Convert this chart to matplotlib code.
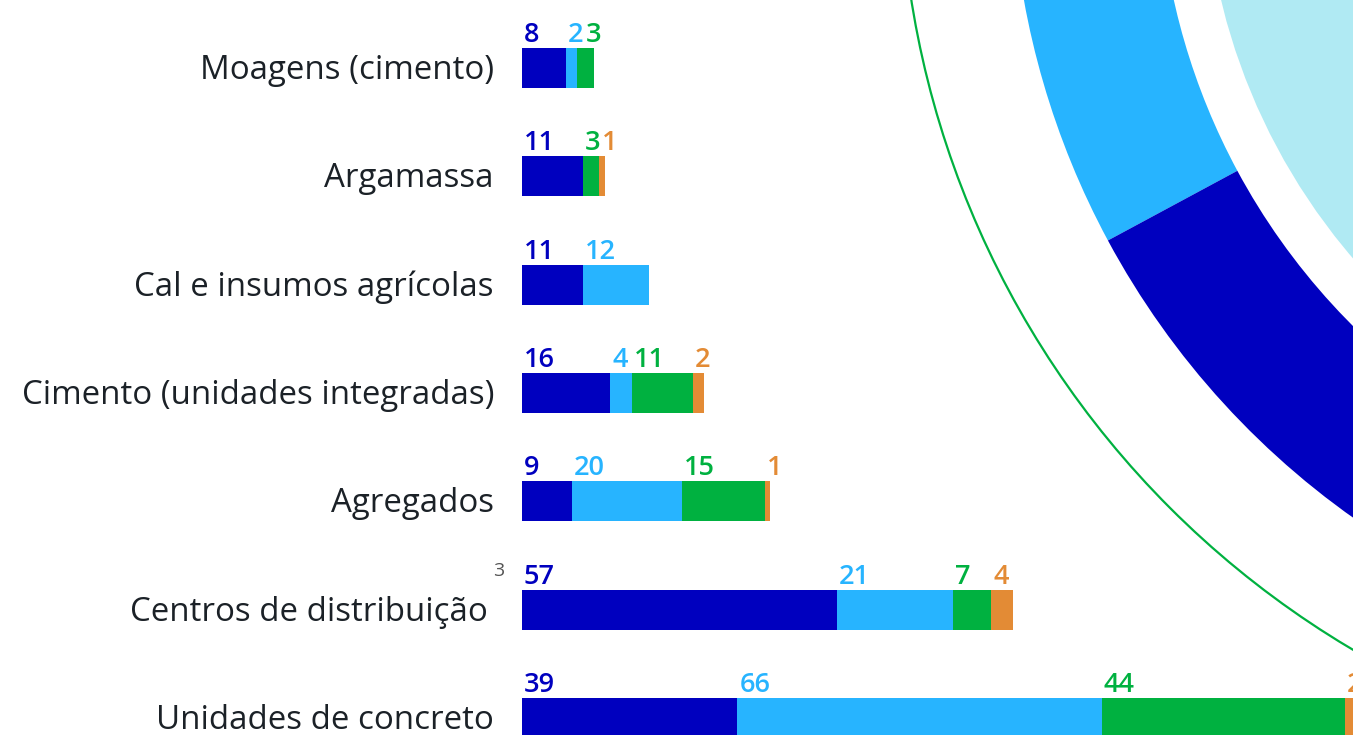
import numpy as np
import matplotlib
matplotlib.use("Agg")
import matplotlib.pyplot as plt
from matplotlib.patches import Wedge, Circle

# data
categories = ["Moagens (cimento)", "Argamassa", "Cal e insumos agrícolas",
              "Cimento (unidades integradas)", "Agregados",
              "Centros de distribuição", "Unidades de concreto"]
footnote = ["", "", "", "", "", "3", ""]
serie_a = [8, 11, 11, 16, 9, 57, 39]
serie_b = [2, 0, 12, 4, 20, 21, 66]
serie_c = [3, 3, 0, 11, 15, 7, 44]
serie_d = [0, 1, 0, 2, 1, 4, 2]

colors = ["#0000BF", "#27B4FF", "#00B140", "#E38B35"]
txt_color = "#1B2127"
fam = ["Open Sans", "DejaVu Sans"]

W, H = 1353, 735
fig = plt.figure(figsize=(W / 100, H / 100), dpi=100)

# background decoration (donut ring on the right), in pixel units
deco = fig.add_axes([0, 0, 1, 1], zorder=0)
deco.set_xlim(0, W)
deco.set_ylim(H, 0)
deco.axis("off")
cx, cy = 1822, -144
r_out, r_in = 811, 664
deco.add_patch(Circle((cx, cy), 618, color="#B0EAF3", lw=0))
deco.add_patch(Wedge((cx, cy), r_out, 151.7, 200, width=r_out - r_in, color=colors[1], lw=0))
deco.add_patch(Wedge((cx, cy), r_out, 95, 151.7, width=r_out - r_in, color=colors[0], lw=0))
deco.add_patch(Circle((cx, cy), 922, fill=False, ec=colors[2], lw=1.6))

# bars
ax = fig.add_axes([522 / W, 0, 1 - 522 / W, 1], zorder=1)
ax.patch.set_alpha(0)
ypos = np.arange(len(categories))
series = [serie_a, serie_b, serie_c, serie_d]
left = np.zeros(len(categories))
label_end = np.full(len(categories), -10.0)
digit_w = 2.9  # approx width of one digit in data units
for vals, col in zip(series, colors):
    vals = np.array(vals, dtype=float)
    ax.barh(ypos, vals, left=left, height=0.37, color=col, lw=0)
    for i, v in enumerate(vals):
        if v <= 0:
            continue
        s = str(int(v))
        x = max(left[i] + 0.35, label_end[i] + 0.3)
        ax.text(x, ypos[i] - 0.24, s, color=col, fontsize=19.5,
                fontweight="semibold", family=fam,
                ha="left", va="baseline")
        label_end[i] = x + len(s) * digit_w
    left += vals

ax.set_xlim(0, 150.5)
ax.set_ylim(6.157, -0.628)
ax.axis("off")

# category labels
for i, (cat, fn) in enumerate(zip(categories, footnote)):
    dx = -34 if fn else -28
    ax.annotate(cat, (0, ypos[i]), xytext=(dx, -11), textcoords="offset pixels",
                ha="right", va="baseline", fontsize=23.8, color=txt_color,
                family=fam, annotation_clip=False)
    if fn:
        ax.annotate(fn, (0, ypos[i]), xytext=(-29, 30), textcoords="offset pixels",
                    ha="left", va="bottom", fontsize=14, color="#555555",
                    family=fam, annotation_clip=False)

fig.savefig("out.png", dpi=100)
